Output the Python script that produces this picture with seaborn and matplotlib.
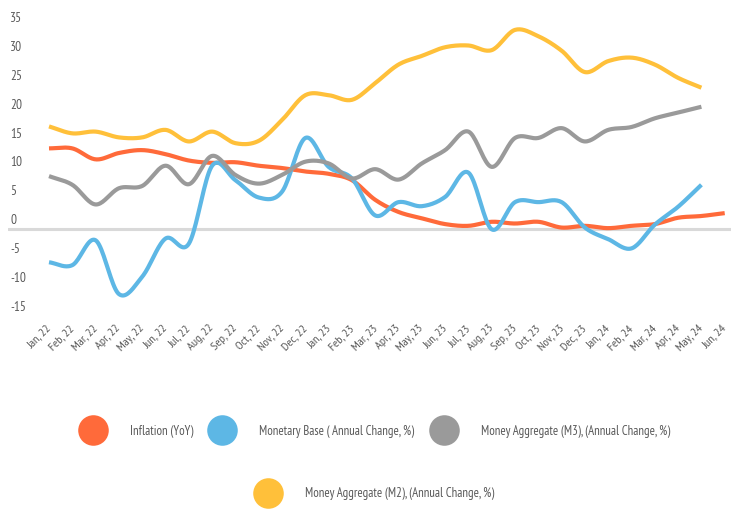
import numpy as np
import pandas as pd
import matplotlib
matplotlib.use("Agg")
import matplotlib.pyplot as plt
import seaborn as sns
from matplotlib.lines import Line2D
from matplotlib.transforms import ScaledTranslation

# ---------------- data ----------------
months = ["Jan, 22", "Feb, 22", "Mar, 22", "Apr, 22", "May, 22", "Jun, 22",
          "Jul, 22", "Aug, 22", "Sep, 22", "Oct, 22", "Nov, 22", "Dec, 22",
          "Jan, 23", "Feb, 23", "Mar, 23", "Apr, 23", "May, 23", "Jun, 23",
          "Jul, 23", "Aug, 23", "Sep, 23", "Oct, 23", "Nov, 23", "Dec, 23",
          "Jan, 24", "Feb, 24", "Mar, 24", "Apr, 24", "May, 24", "Jun, 24"]

inflation = [14.0, 14.0, 12.1, 13.2, 13.7, 13.0, 11.9, 11.5, 11.6, 11.0,
             10.6, 10.0, 9.6, 8.5, 5.1, 3.0, 1.9, 0.9, 0.6, 1.3,
             1.0, 1.3, 0.3, 0.6, 0.2, 0.6, 0.9, 2.0, 2.3, 2.8]

monetary_base = [-5.7, -6.2, -1.9, -11.2, -8.2, -1.6, -2.5, 11.0, 8.5, 5.5,
                 6.5, 15.8, 10.8, 8.8, 2.4, 4.7, 4.0, 5.6, 9.8, 0.0,
                 4.7, 4.7, 4.7, 0.3, -1.7, -3.3, 0.8, 3.9, 7.7]

m3 = [9.2, 7.7, 4.3, 7.1, 7.5, 11.0, 7.8, 12.7, 9.4, 7.9,
      9.4, 11.7, 11.4, 8.8, 10.4, 8.6, 11.4, 13.7, 16.9, 10.8,
      15.8, 15.8, 17.5, 15.2, 17.2, 17.7, 19.2, 20.2, 21.2]

m2 = [17.8, 16.6, 16.9, 15.9, 15.9, 17.2, 15.2, 16.9, 14.9, 15.3,
      18.9, 23.2, 23.2, 22.4, 25.3, 28.5, 30.0, 31.5, 31.8, 31.0,
      34.5, 33.4, 30.9, 27.2, 29.1, 29.7, 28.5, 26.2, 24.5]

series_names = ["Inflation (YoY)",
                "Monetary Base ( Annual Change, %)",
                "Money Aggregate (M3), (Annual Change, %)",
                "Money Aggregate (M2), (Annual Change, %)"]
y_ticks = [-15, -10, -5, 0, 5, 10, 15, 20, 25, 30, 35]

colors = ["#FF6A3A", "#5DB7E5", "#9A9A9A", "#FFC03A"]
text_color = "#595959"

# ---------------- style ----------------
sns.set_theme(style="white")
plt.rcParams["font.family"] = ["PT Sans Narrow", "DejaVu Sans"]

fig = plt.figure(figsize=(7.31, 5.09), dpi=100)
ax = fig.add_axes([8 / 731, (509 - 316) / 509, 723 / 731, 289 / 509])

rows = []
for name, vals in zip(series_names, [inflation, monetary_base, m3, m2]):
    for i, v in enumerate(vals):
        rows.append((i, v, name))
df = pd.DataFrame(rows, columns=["idx", "value", "series"])

ax.axhline(0, color="#D9D9D9", lw=2.2, zorder=1)
sns.lineplot(data=df, x="idx", y="value", hue="series", hue_order=series_names,
             palette=colors, linewidth=3.0, legend=False, ax=ax, zorder=3)


def smooth(x, y, n=20):
    """Render a Catmull-Rom style smoothed curve through the given points."""
    x = np.asarray(x, float)
    y = np.asarray(y, float)
    m = len(x)
    tx = np.zeros(m)
    ty = np.zeros(m)
    tx[1:-1] = (x[2:] - x[:-2]) / 2
    ty[1:-1] = (y[2:] - y[:-2]) / 2
    tx[0], ty[0] = x[1] - x[0], y[1] - y[0]
    tx[-1], ty[-1] = x[-1] - x[-2], y[-1] - y[-2]
    xs, ys = [x[0]], [y[0]]
    t = np.linspace(0, 1, n + 1)[1:]
    for i in range(m - 1):
        p0 = np.array([x[i], y[i]])
        p3 = np.array([x[i + 1], y[i + 1]])
        p1 = p0 + np.array([tx[i], ty[i]]) / 3
        p2 = p3 - np.array([tx[i + 1], ty[i + 1]]) / 3
        b = ((1 - t) ** 3)[:, None] * p0 + (3 * (1 - t) ** 2 * t)[:, None] * p1 \
            + (3 * (1 - t) * t ** 2)[:, None] * p2 + (t ** 3)[:, None] * p3
        xs.extend(b[:, 0])
        ys.extend(b[:, 1])
    return np.array(xs), np.array(ys)


for line in ax.lines:
    xd, yd = line.get_xdata(), line.get_ydata()
    if len(xd) > 2:
        sx, sy = smooth(xd, yd)
        line.set_data(sx, sy)
        line.set_solid_capstyle("butt")
        line.set_clip_on(False)

ax.set_xlim(-1.76, 29.27)
ax.set_ylim(-15, 35)
for s in ax.spines.values():
    s.set_visible(False)
ax.set_xlabel("")
ax.set_ylabel("")

ax.set_xticks(range(len(months)))
ax.set_xticklabels(months, rotation=45, ha="right", va="center",
                   rotation_mode="anchor")
ax.tick_params(axis="x", length=0, pad=7.5, labelsize=8.8, labelcolor=text_color)

ax.set_yticks(y_ticks)
ax.set_yticklabels([str(v) for v in y_ticks])
ax.tick_params(axis="y", length=0, pad=-1.5, labelsize=9.5, labelcolor=text_color)
offset = ScaledTranslation(0, 0.10, fig.dpi_scale_trans)
for lbl in ax.get_yticklabels():
    lbl.set_ha("left")
    lbl.set_transform(lbl.get_transform() + offset)

# ---------------- legend ----------------
handles = [Line2D([], [], marker="o", ls="", markersize=22, markerfacecolor=c,
                  markeredgewidth=0) for c in colors]
leg_kw = dict(loc="center", frameon=False, fontsize=9.2, handlelength=2.3,
              handletextpad=1.75, columnspacing=1.15, labelcolor=text_color)
fig.legend(handles[:3], series_names[:3], ncol=3,
           bbox_to_anchor=(374 / 731, 1 - 431 / 509), **leg_kw)
fig.legend(handles[3:], series_names[3:], ncol=1,
           bbox_to_anchor=(374 / 731, 1 - 494 / 509), **leg_kw)

fig.savefig("out.png", dpi=100)
